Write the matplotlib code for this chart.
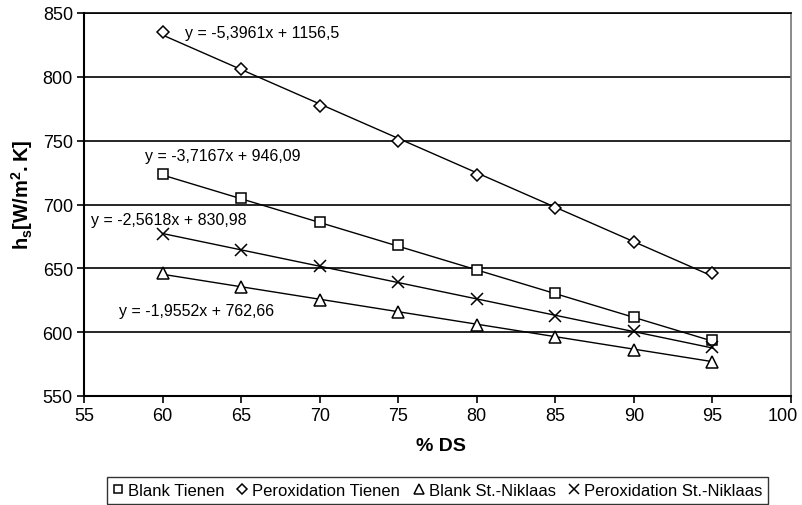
import matplotlib
matplotlib.use("Agg")
import matplotlib.pyplot as plt
import matplotlib.transforms as mtransforms
import numpy as np

plt.rcParams['font.family'] = ['Liberation Sans', 'DejaVu Sans']
plt.rcParams['mathtext.fontset'] = 'custom'
plt.rcParams['mathtext.rm'] = 'Liberation Sans'
plt.rcParams['mathtext.bf'] = 'Liberation Sans:bold'

ds = [60, 65, 70, 75, 80, 85, 90, 95]
blank_tienen = [724, 705, 686, 668, 649, 631, 612, 594]
perox_tienen = [835, 806, 777, 750, 723, 697, 671, 646]
blank_stn = [646, 635, 625, 616, 606, 596, 586, 577]
perox_stn = [677, 664, 652, 639, 626, 613, 601, 588]

series_names = ["Blank Tienen", "Peroxidation Tienen", "Blank St.-Niklaas", "Peroxidation St.-Niklaas"]
series_values = [blank_tienen, perox_tienen, blank_stn, perox_stn]
slopes = [-3.7167, -5.3961, -1.9552, -2.5618]
intercepts = [946.09, 1156.5, 762.66, 830.98]
eq_labels = ["y = -3,7167x + 946,09", "y = -5,3961x + 1156,5",
             "y = -1,9552x + 762,66", "y = -2,5618x + 830,98"]
eq_pos = [(58.9, 738), (61.4, 835), (57.2, 617), (55.45, 688.5)]
markers = ['s', 'D', '^', 'x']
msizes = [7, 6, 8, 8]

fig = plt.figure(figsize=(8.02, 5.06), dpi=100)
ax = fig.add_axes([84/802, 1-397/506, (791-84)/802, (397-14)/506])

x = np.array(ds, dtype=float)
handles = []
for name, vals, m, k, b, ms in zip(series_names, series_values, markers, slopes, intercepts, msizes):
    ax.plot(x, k*x + b, color='black', lw=1, zorder=2)
    h, = ax.plot(x, vals, linestyle='none', marker=m, ms=ms,
                 mfc='white' if m != 'x' else 'black', mec='black', mew=1.1,
                 zorder=3, label=name)
    handles.append(h)

for lbl, (px, py) in zip(eq_labels, eq_pos):
    ax.text(px, py, lbl, fontsize=11.5, ha='left', va='center', zorder=4)

ax.set_xlim(55, 100)
ax.set_ylim(550, 850)
ax.set_xticks(np.arange(55, 101, 5))
ax.set_yticks(np.arange(550, 851, 50))
ax.yaxis.grid(True, color='black', lw=1.2)
ax.set_axisbelow(True)
ax.tick_params(labelsize=13, direction='out', length=5, width=1.2, colors='black', pad=3)
for sp in ['left', 'bottom']:
    ax.spines[sp].set_linewidth(1.5)
ax.spines['right'].set_color('#777777')
ax.spines['right'].set_linewidth(1.2)
ax.spines['top'].set_linewidth(1.2)

# nudge the last x tick label so it stays inside the figure
last = ax.get_xticklabels()[-1]
last.set_transform(last.get_transform() +
                   mtransforms.ScaledTranslation(-8/100, 0, fig.dpi_scale_trans))

ax.set_xlabel('% DS', fontsize=14, fontweight='bold')
ax.xaxis.set_label_coords((441-84)/707, (397-446.5)/383)
ax.xaxis.label.set_va('center')
ax.set_ylabel(r'$\mathbf{h_s[W/m^2.K]}$', fontsize=14.5)
ax.yaxis.set_label_coords((22-84)/707, (397-195)/383)
ax.yaxis.label.set_va('center')

leg = fig.legend(handles=handles, loc='center', bbox_to_anchor=(437.5/802, 1-491.5/506),
                 ncol=4, fontsize=12, frameon=True, fancybox=False,
                 edgecolor='black', handlelength=0.6, handletextpad=0.3,
                 columnspacing=0.8, borderpad=0.35, markerscale=0.85)
leg.get_frame().set_linewidth(1.0)

fig.savefig('out.png', dpi=100)
